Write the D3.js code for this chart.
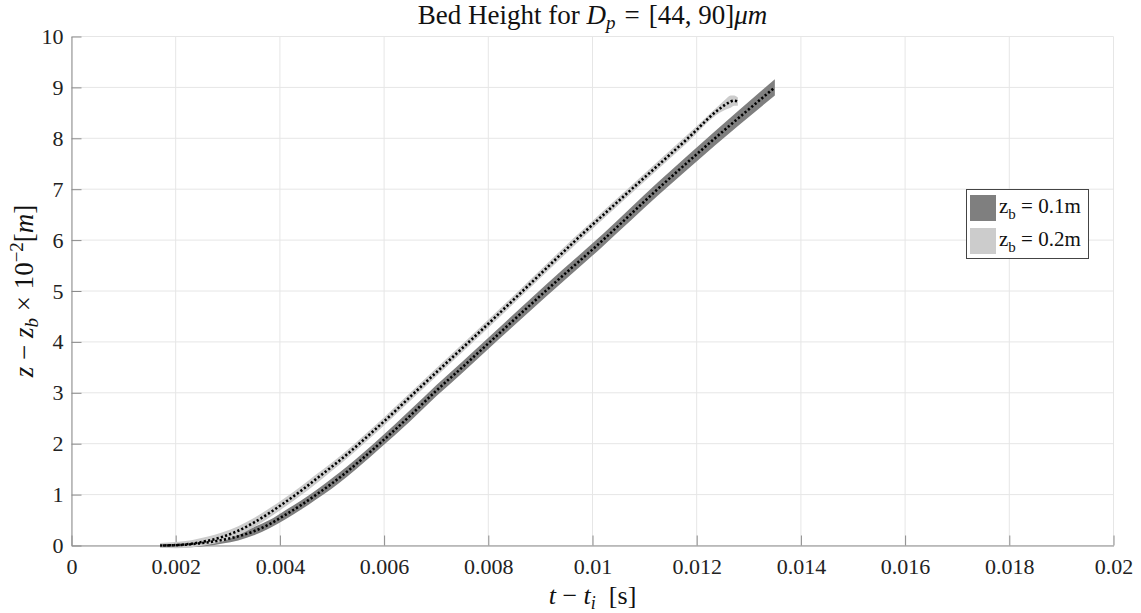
<!DOCTYPE html>
<html>
<head>
<meta charset="utf-8">
<script src="https://cdn.jsdelivr.net/npm/d3@7"></script>
<style>
  body { margin: 0; background: #fff; }
  svg text { font-family: "Liberation Serif", "DejaVu Serif", serif !important; }
</style>
</head>
<body>
<svg id="chart" width="1141" height="613"></svg>
<script>
// Bed height z - z_b (x 10^-2 m) against t - t_i (s), two release heights.
const seriesNames = ["0.1m", "0.2m"];

// z_b = 0.1 m
const tLow = [0.00175, 0.0020, 0.0023, 0.0026, 0.0029, 0.0032, 0.0035, 0.0038, 0.0041,
              0.0044, 0.0047, 0.0050, 0.0053, 0.0056, 0.0059, 0.0065, 0.0070, 0.0075,
              0.0080, 0.0091, 0.0102, 0.01125, 0.01235, 0.0135];
const zLow = [0.0, 0.005, 0.025, 0.06, 0.11, 0.18, 0.28, 0.42, 0.6,
              0.79, 1.0, 1.22, 1.46, 1.72, 1.99, 2.55, 3.04, 3.5,
              3.97, 5.0, 6.0, 7.0, 8.0, 9.0];
const spreadLow = [0.04, 0.05, 0.06, 0.07, 0.07, 0.08, 0.08, 0.08, 0.09,
                   0.09, 0.09, 0.1, 0.1, 0.1, 0.1, 0.11, 0.11, 0.11,
                   0.11, 0.12, 0.12, 0.13, 0.14, 0.16];

// z_b = 0.2 m
const tHigh = [0.0017, 0.0020, 0.0023, 0.0026, 0.0029, 0.0032, 0.0035, 0.0038, 0.0041,
               0.0044, 0.0047, 0.0050, 0.0053, 0.0056, 0.0060, 0.0065, 0.0070, 0.0076,
               0.00866, 0.00965, 0.01075, 0.01183, 0.01244, 0.01255, 0.01265, 0.01272, 0.01279];
const zHigh = [0.0, 0.008, 0.035, 0.09, 0.17, 0.29, 0.45, 0.64, 0.85,
               1.07, 1.31, 1.55, 1.8, 2.07, 2.44, 2.92, 3.4, 3.97,
               5.0, 5.97, 7.0, 8.0, 8.58, 8.66, 8.72, 8.74, 8.72];
const spreadHigh = [0.05, 0.06, 0.07, 0.08, 0.09, 0.09, 0.09, 0.09, 0.09,
                    0.09, 0.09, 0.08, 0.08, 0.08, 0.08, 0.08, 0.08, 0.08,
                    0.08, 0.08, 0.08, 0.08, 0.08, 0.1, 0.12, 0.1, 0.08];

const xTicks = [0, 0.002, 0.004, 0.006, 0.008, 0.01, 0.012, 0.014, 0.016, 0.018, 0.02];
const xTickLabels = ["0", "0.002", "0.004", "0.006", "0.008", "0.01", "0.012", "0.014", "0.016", "0.018", "0.02"];
const yTicks = [0, 1, 2, 3, 4, 5, 6, 7, 8, 9, 10];
const yTickLabels = ["0", "1", "2", "3", "4", "5", "6", "7", "8", "9", "10"];

const svg = d3.select("#chart");
const plotL = 71.5, plotR = 1113.5, plotT = 36.5, plotB = 545.5;
const SP = "\u2005";  // spacing around math operators

const x = d3.scaleLinear().domain([0, 0.02]).range([plotL, plotR]);
const y = d3.scaleLinear().domain([0, 10]).range([plotB, plotT]);

// grid
const grid = svg.append("g").attr("stroke", "#e6e6e6").attr("stroke-width", 1);
xTicks.forEach(t => grid.append("line")
  .attr("x1", x(t)).attr("x2", x(t)).attr("y1", plotT).attr("y2", plotB));
yTicks.forEach(v => grid.append("line")
  .attr("x1", plotL).attr("x2", plotR).attr("y1", y(v)).attr("y2", y(v)));

// axes (ticks pointing inward)
const xAxis = d3.axisBottom(x).tickValues(xTicks)
  .tickFormat((d, i) => xTickLabels[i]).tickSizeInner(-10).tickSizeOuter(0);
const yAxis = d3.axisLeft(y).tickValues(yTicks)
  .tickFormat((d, i) => yTickLabels[i]).tickSizeInner(-10).tickSizeOuter(0);

const gx = svg.append("g").attr("transform", `translate(0,${plotB})`).call(xAxis);
const gy = svg.append("g").attr("transform", `translate(${plotL},0)`).call(yAxis);
[gx, gy].forEach(g => {
  g.attr("font-family", null);
  g.select(".domain").attr("stroke", "#8c8c8c").attr("stroke-width", 1);
  g.selectAll(".tick line").attr("stroke", "#8c8c8c").attr("stroke-width", 1);
  g.selectAll(".tick text").attr("fill", "#222").attr("font-size", 22);
});
gx.selectAll(".tick text").attr("dy", "0.71em").attr("y", 13);
gy.selectAll(".tick text").attr("x", -8);

// series
function rows(ts, zs, ss) { return ts.map((t, i) => ({ t, z: zs[i], s: ss[i] })); }
const low = rows(tLow, zLow, spreadLow);
const high = rows(tHigh, zHigh, spreadHigh);

const area = d3.area().curve(d3.curveMonotoneX)
  .x(d => x(d.t)).y0(d => y(d.z - d.s)).y1(d => y(d.z + d.s));
const line = d3.line().curve(d3.curveMonotoneX)
  .x(d => x(d.t)).y(d => y(d.z));

const bandColors = ["#7f7f7f", "#cccccc"];
svg.append("path").datum(low).attr("d", area).attr("fill", bandColors[0]);
svg.append("path").datum(high).attr("d", area).attr("fill", bandColors[1]);
[low, high].forEach(s => svg.append("path").datum(s).attr("d", line)
  .attr("fill", "none").attr("stroke", "#000").attr("stroke-width", 2.6)
  .attr("stroke-dasharray", "2.2,2.2"));

// title
const title = svg.append("text").attr("x", (plotL + plotR) / 2).attr("y", 24)
  .attr("text-anchor", "middle").attr("font-size", 27).attr("fill", "#111");
title.append("tspan").text("Bed Height for ");
title.append("tspan").attr("font-style", "italic").text("D");
title.append("tspan").attr("font-style", "italic").attr("font-size", 19).attr("dy", 5).text("p");
title.append("tspan").attr("dy", -5).text("\u2004=\u2004[44," + SP + "90]");
title.append("tspan").attr("font-style", "italic").text("μm");

// x label
const xl = svg.append("text").attr("x", (plotL + plotR) / 2).attr("y", 604)
  .attr("text-anchor", "middle").attr("font-size", 26).attr("fill", "#111");
xl.append("tspan").attr("font-style", "italic").text("t");
xl.append("tspan").text(SP + "−" + SP);
xl.append("tspan").attr("font-style", "italic").text("t");
xl.append("tspan").attr("font-style", "italic").attr("font-size", 18).attr("dy", 5).text("i");
xl.append("tspan").attr("dy", -5).text(SP + " [s]");

// y label
const yl = svg.append("text").attr("transform", "translate(33,291) rotate(-90)")
  .attr("text-anchor", "middle").attr("font-size", 27).attr("fill", "#111");
yl.append("tspan").attr("font-style", "italic").text("z");
yl.append("tspan").text(SP + "−" + SP);
yl.append("tspan").attr("font-style", "italic").text("z");
yl.append("tspan").attr("font-style", "italic").attr("font-size", 19).attr("dy", 5).text("b");
yl.append("tspan").attr("dy", -5).text(SP + "×" + SP + "10");
yl.append("tspan").attr("font-size", 19).attr("dy", -10).text("−2");
yl.append("tspan").attr("dy", 10).text("[");
yl.append("tspan").attr("font-style", "italic").text("m");
yl.append("tspan").text("]");

// legend
const lg = svg.append("g");
lg.append("rect").attr("x", 966.5).attr("y", 189.5).attr("width", 122).attr("height", 69)
  .attr("fill", "#fff").attr("stroke", "#444").attr("stroke-width", 1);
seriesNames.forEach((name, i) => {
  const yy = 195 + i * 33;
  lg.append("rect").attr("x", 970).attr("y", yy).attr("width", 26).attr("height", 26)
    .attr("fill", bandColors[i]);
  const t = lg.append("text").attr("x", 999).attr("y", yy + 18).attr("font-size", 21).attr("fill", "#111");
  t.append("tspan").text("z");
  t.append("tspan").attr("font-size", 15).attr("dy", 6).text("b");
  t.append("tspan").attr("dy", -6).text(" = " + name);
});
</script>
</body>
</html>
